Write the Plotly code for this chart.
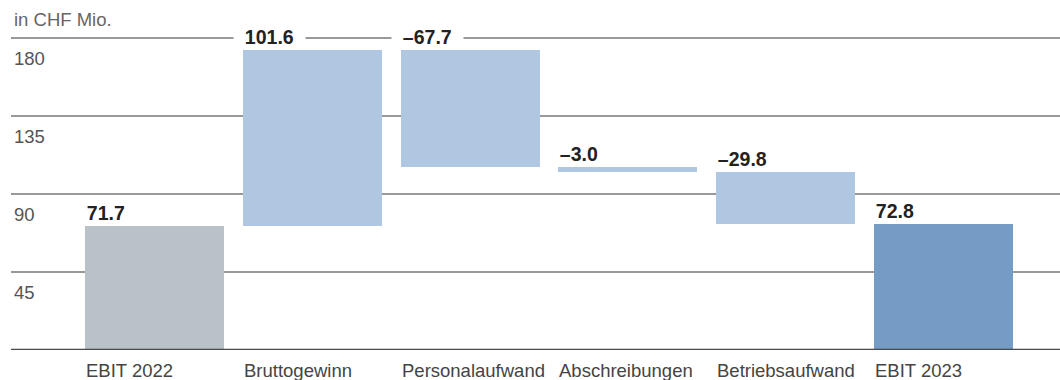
import plotly.graph_objects as go

# EBIT bridge, in CHF millions
categories = ["EBIT 2022", "Bruttogewinn", "Personalaufwand", "Abschreibungen",
              "Betriebsaufwand", "EBIT 2023"]
values = [71.7, 101.6, -67.7, -3.0, -29.8, 72.8]
measures = ["absolute", "relative", "relative", "relative", "relative", "total"]
y_ticks = [45, 90, 135, 180]

FONT = "Liberation Sans"
GREY_BAR = "#b9c2c6"
LIGHT_BLUE = "#b0c7e2"
DARK_BLUE = "#759cc4"

# bar bases and heights derived from the running total
bases, heights, colors = [], [], []
running = 0.0
for v, m in zip(values, measures):
    if m == "absolute":
        bases.append(0.0)
        heights.append(v)
        running = v
        colors.append(GREY_BAR)
    elif m == "total":
        bases.append(0.0)
        heights.append(v)
        colors.append(DARK_BLUE)
    else:
        start = running
        running = running + v
        bases.append(min(start, running))
        heights.append(abs(v))
        colors.append(LIGHT_BLUE)

BAR_W = 0.881
idx = list(range(len(categories)))

fig = go.Figure(go.Bar(
    x=idx, y=heights, base=bases, width=BAR_W,
    marker=dict(color=colors, line=dict(width=0)),
    hoverinfo="skip",
))

annotations = []
# value labels above each bar
for i, (v, b, h) in enumerate(zip(values, bases, heights)):
    txt = f"{v:.1f}".replace("-", "–")
    annotations.append(dict(
        x=i - BAR_W / 2, y=b + h, xref="x", yref="y",
        text=f"&nbsp;&nbsp;<b>{txt}</b>&nbsp;&nbsp;", showarrow=False,
        xanchor="left", yanchor="middle", yshift=13, xshift=-10,
        font=dict(family=FONT, size=19.5, color="#222222"),
        bgcolor="white", borderpad=0,
    ))
# category labels below the baseline, aligned to the bar's left edge
for i, c in enumerate(categories):
    annotations.append(dict(
        x=i - BAR_W / 2, y=0, xref="x", yref="y", text=c, showarrow=False,
        xanchor="left", yanchor="middle", yshift=-20, xshift=-1,
        font=dict(family=FONT, size=18.5, color="#444444"),
    ))
# y tick labels sit just under their gridlines
for t in y_ticks:
    annotations.append(dict(
        x=0.001, y=t, xref="paper", yref="y", text=str(t), showarrow=False,
        xanchor="left", yanchor="middle", yshift=-20,
        font=dict(family=FONT, size=18.5, color="#555555"),
    ))
annotations.append(dict(
    x=0.001, y=1, xref="paper", yref="paper", text="in CHF Mio.", showarrow=False,
    xanchor="left", yanchor="middle", yshift=1,
    font=dict(family=FONT, size=18.5, color="#666666"),
))

fig.update_layout(
    width=1060, height=380,
    margin=dict(l=11, r=0, t=20, b=30),
    paper_bgcolor="white", plot_bgcolor="white",
    showlegend=False,
    annotations=annotations,
    bargap=0,
    shapes=[dict(type="line", xref="paper", yref="y", x0=0, x1=1, y0=0, y1=0,
                 line=dict(color="#4a4a4a", width=2.5), layer="above")],
    xaxis=dict(range=[-0.909, 5.738], showgrid=False, showticklabels=False,
               zeroline=False, showline=False, fixedrange=True),
    yaxis=dict(range=[0, 190.4], tickvals=y_ticks, showticklabels=False,
               showgrid=True, gridcolor="#999999", gridwidth=1.5,
               zeroline=False, showline=False, fixedrange=True),
)

fig.write_html("out.html")
